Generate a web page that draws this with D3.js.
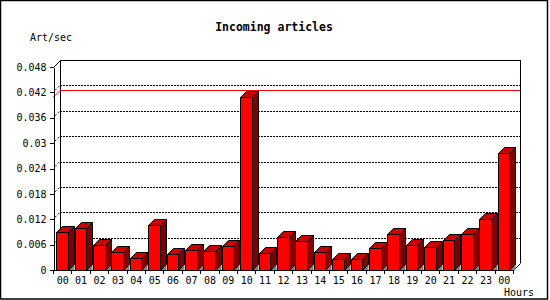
<!DOCTYPE html>
<html>
<head>
<meta charset="utf-8">
<script src="https://cdn.jsdelivr.net/npm/d3@7"></script>
<style>
  html, body { margin: 0; padding: 0; background: #fff; }
  svg { display: block; }
  text { font-family: "DejaVu Sans Mono", monospace; fill: #000; }
</style>
</head>
<body>
<svg id="chart" width="550" height="300"></svg>
<script>
const title = "Incoming articles";
const yTitle = "Art/sec";
const xTitle = "Hours";
const hours = ["00","01","02","03","04","05","06","07","08","09","10","11","12",
               "13","14","15","16","17","18","19","20","21","22","23","00"];
const artPerSec = [0.0089, 0.0099, 0.0058, 0.0042, 0.0028, 0.0106, 0.0037, 0.0047,
                   0.0044, 0.0056, 0.0408, 0.0040, 0.0077, 0.0068, 0.0042, 0.0025,
                   0.0025, 0.0051, 0.0084, 0.0058, 0.0054, 0.0071, 0.0084, 0.0120, 0.0276];
const yTicks = [0, 0.006, 0.012, 0.018, 0.024, 0.03, 0.036, 0.042, 0.048];
const yTickLabels = ["0","0.006","0.012","0.018","0.024","0.03","0.036","0.042","0.048"];

const svg = d3.select("#chart");
const W = 550, H = 300;
const pLeft = 53, pRight = 513, pBottom = 270, pTop = 67;
const D = 7;   // wall depth
const BD = 6;  // bar depth

const idx = d3.range(hours.length);
const x = d3.scaleBand().domain(idx).range([pLeft, pRight]).paddingInner(0).paddingOuter(0);
const y = d3.scaleLinear().domain([0, 0.048]).range([pBottom, pTop]);

// frame
svg.append("rect").attr("x", 0.5).attr("y", 0.5).attr("width", W - 3).attr("height", H - 1.5)
  .attr("fill", "#fff").attr("stroke", "#000").attr("stroke-width", 1.5);

// back wall
const g = svg.append("g").attr("shape-rendering", "crispEdges");
const bx0 = pLeft + D, bx1 = pRight + D;
const wallTop = Math.round(y(0.048)) - D;

// grid lines on back wall and left wall
const grid = yTicks.filter(v => v > 0 && v < 0.048);
g.selectAll("line.grid").data(grid).join("line")
  .attr("x1", bx0).attr("x2", bx1)
  .attr("y1", d => Math.round(y(d) - D) + 0.5).attr("y2", d => Math.round(y(d) - D) + 0.5)
  .attr("stroke", "#000").attr("stroke-dasharray", "2,1");
svg.selectAll("line.gridl").data(grid).join("line")
  .attr("x1", pLeft + 2).attr("x2", bx0)
  .attr("y1", d => y(d) - 2).attr("y2", d => y(d) - D)
  .attr("stroke", "#000").attr("stroke-dasharray", "2,2");

// wall outlines
g.append("line").attr("x1", bx0 + 0.5).attr("x2", bx0 + 0.5).attr("y1", wallTop).attr("y2", pBottom - D).attr("stroke", "#000");
g.append("line").attr("x1", bx0).attr("x2", bx1 + 1).attr("y1", wallTop + 0.5).attr("y2", wallTop + 0.5).attr("stroke", "#000");
g.append("line").attr("x1", bx1 + 0.5).attr("x2", bx1 + 0.5).attr("y1", wallTop).attr("y2", pBottom - D).attr("stroke", "#000");
svg.append("line").attr("x1", pLeft + 0.5).attr("y1", wallTop + D + 0.5).attr("x2", bx0 + 0.5).attr("y2", wallTop + 0.5).attr("stroke", "#000");
svg.append("line").attr("x1", pRight + 0.5).attr("y1", pBottom + 0.5).attr("x2", bx1 + 0.5).attr("y2", pBottom - D + 0.5).attr("stroke", "#000");

// max line (red)
const maxV = d3.max(artPerSec);
const ym = Math.round(y(maxV));
svg.append("path")
  .attr("d", `M${pLeft},${ym + 0.5} L${bx0},${ym - D + 0.5} L${bx1},${ym - D + 0.5}`)
  .attr("fill", "none").attr("stroke", "#ff0000").attr("stroke-width", 1);

// bars
const bw = x.bandwidth() * 0.63;
const off = x.bandwidth() * 0.17;
const bars = svg.append("g").attr("stroke", "#000").attr("stroke-width", 1).attr("stroke-linejoin", "miter");
idx.forEach(i => {
  const x0 = Math.round(x(i) + off) + 0.5;
  const x1 = Math.round(x(i) + off + bw) + 0.5;
  const yt = Math.round(y(artPerSec[i])) + 0.5;
  const yb = pBottom + 0.5;
  // floor shadow
  bars.append("path").attr("d", `M${x1},${yb} L${x1 + BD},${yb - BD} L${x1 + BD},${yb} Z`)
    .attr("fill", "#808080").attr("stroke", "none");
  // side
  bars.append("path").attr("d", `M${x1},${yt} L${x1 + BD},${yt - BD} L${x1 + BD},${yb - BD} L${x1},${yb} Z`)
    .attr("fill", "#800000");
  // top
  bars.append("path").attr("d", `M${x0},${yt} L${x0 + BD},${yt - BD} L${x1 + BD},${yt - BD} L${x1},${yt} Z`)
    .attr("fill", "#c80000");
  // front
  bars.append("rect").attr("x", x0).attr("y", yt).attr("width", x1 - x0).attr("height", yb - yt)
    .attr("fill", "#ff0000");
});

// y axis
const yAxis = d3.axisLeft(y).tickValues(yTicks).tickSize(4).tickSizeOuter(0).tickPadding(3)
  .tickFormat((d, i) => yTickLabels[i]);
const ya = svg.append("g").attr("transform", `translate(${pLeft + 0.5},0)`).call(yAxis);
ya.select(".domain").attr("stroke", "#000").attr("shape-rendering", "crispEdges");
ya.selectAll(".tick line").attr("stroke", "#000").attr("shape-rendering", "crispEdges");
ya.selectAll(".tick text").attr("font-family", "DejaVu Sans Mono").attr("font-size", 10).attr("fill", "#000");

// x axis baseline and boundary ticks
svg.append("line").attr("x1", pLeft).attr("x2", pRight + 1).attr("y1", pBottom + 0.5).attr("y2", pBottom + 0.5)
  .attr("stroke", "#000").attr("shape-rendering", "crispEdges");
svg.selectAll("line.xt").data(d3.range(hours.length + 1)).join("line")
  .attr("x1", d => Math.round(pLeft + d * x.step()) + 0.5).attr("x2", d => Math.round(pLeft + d * x.step()) + 0.5)
  .attr("y1", pBottom).attr("y2", pBottom + 4)
  .attr("stroke", "#000").attr("shape-rendering", "crispEdges");
svg.selectAll("text.xl").data(idx).join("text")
  .attr("x", i => x(i) + x.bandwidth() / 2 + 0.5).attr("y", 284)
  .attr("text-anchor", "middle").attr("font-size", 10)
  .text(i => hours[i]);

// titles
svg.append("text").attr("x", 274).attr("y", 31).attr("text-anchor", "middle")
  .attr("font-size", 11.5).attr("font-weight", "bold").text(title);
svg.append("text").attr("x", 30).attr("y", 41).attr("font-size", 10).text(yTitle);
svg.append("text").attr("x", 504).attr("y", 296).attr("font-size", 10).text(xTitle);
</script>
</body>
</html>
